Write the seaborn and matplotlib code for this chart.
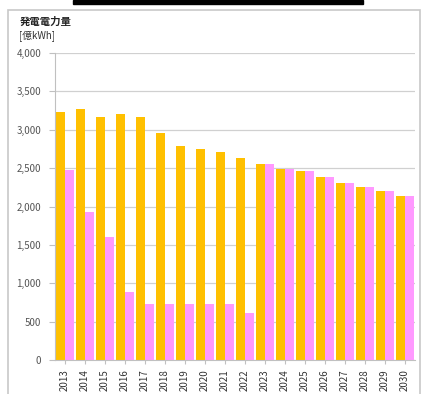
import pandas as pd
import matplotlib.pyplot as plt
import seaborn as sns
from matplotlib.patches import Rectangle
from matplotlib.ticker import FuncFormatter

# Data (億kWh)
years = [str(y) for y in range(2013, 2031)]
series_a = [3230, 3270, 3165, 3205, 3165, 2960, 2790, 2750, 2710, 2630,
            2555, 2490, 2460, 2385, 2305, 2255, 2205, 2140]
series_b = [2475, 1930, 1600, 885, 730, 730, 730, 730, 730, 610,
            2560, 2490, 2460, 2385, 2305, 2255, 2205, 2140]
series_names = ["A", "B"]
colors = ["#FFC000", "#FF99FF"]

df = pd.DataFrame({
    "year": years * 2,
    "value": series_a + series_b,
    "series": [series_names[0]] * len(years) + [series_names[1]] * len(years),
})

sns.set_style("white")
plt.rcParams['font.family'] = ['Noto Sans CJK JP', 'DejaVu Sans']

fig = plt.figure(figsize=(4.24, 3.94), dpi=100)
W, H = 424, 394

# outer panel border (open at the bottom) and black bar on top
fig.patches.append(Rectangle((8 / W, -0.05), (420 - 8) / W, (394 - 10) / H + 0.05,
                             transform=fig.transFigure, fill=False,
                             edgecolor="#c8c8c8", linewidth=1.2))
fig.patches.append(Rectangle((73 / W, (394 - 4) / H), (363 - 73) / W, 4 / H,
                             transform=fig.transFigure, color="black"))

ax = fig.add_axes([55 / W, (H - 360) / H, (415 - 55) / W, (360 - 53) / H])
sns.barplot(data=df, x="year", y="value", hue="series", palette=colors,
            width=0.88, gap=0, saturation=1, legend=False, linewidth=0,
            ax=ax)

ax.set_ylim(0, 4000)
ax.set_yticks(range(0, 4001, 500))
ax.yaxis.set_major_formatter(FuncFormatter(lambda v, p: f"{int(v):,}"))
ax.set_xlim(-0.5, len(years) - 0.5)
ax.grid(axis="y", color="#d0d0d0", linewidth=0.9)
ax.set_axisbelow(True)
ax.set_xlabel("")
ax.set_ylabel("")
for s in ["top", "right"]:
    ax.spines[s].set_visible(False)
ax.spines["left"].set_color("#c0c0c0")
ax.spines["bottom"].set_color("#c0c0c0")
ax.tick_params(axis="y", labelsize=7, colors="#555555", length=4, left=True,
               color="#c0c0c0", pad=6)
ax.tick_params(axis="x", labelsize=7, colors="#333333", rotation=90,
               length=3, bottom=True, color="#c0c0c0")

fig.text(20 / W, 1 - 22 / H, "発電電力量", fontsize=7.5, fontweight="bold",
         color="#222222", va="center")
fig.text(19 / W, 1 - 36 / H, "[億kWh]", fontsize=7, color="#333333", va="center")

fig.savefig("out.png", dpi=100)
